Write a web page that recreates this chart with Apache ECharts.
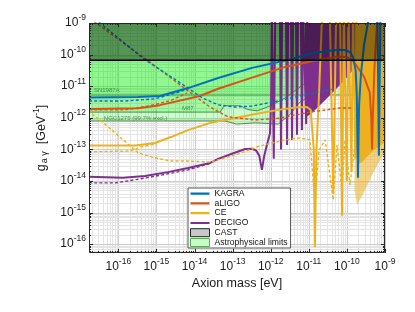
<!DOCTYPE html>
<html><head><meta charset="utf-8">
<script src="https://cdn.jsdelivr.net/npm/echarts@6/dist/echarts.min.js"></script>
<style>html,body{margin:0;padding:0;background:#fff}#c{width:415px;height:312px}</style>
</head><body><div id="c"></div>
<script>
// All values: [log10(axion mass / eV), log10(g_aγ / GeV^-1)]
const xMin = -16.77, xMax = -9;
const yMin = -16.28, yMax = -9;
const xTickExps = [-16, -15, -14, -13, -12, -11, -10, -9];
const yTickExps = [-16, -15, -14, -13, -12, -11, -10, -9];
const seriesNames = ['KAGRA', 'aLIGO', 'CE', 'DECIGO', 'CAST', 'Astrophysical limits'];

const kagraSolid = [[-16.77,-11.36],[-15.48,-11.34],[-14.91,-11.31],[-14.17,-11.06],[-13.38,-10.74],[-12.49,-10.42],[-11.62,-10.19],[-10.89,-9.95],[-10.45,-9.88],[-10.18,-9.85],[-10.02,-9.86],[-9.90,-9.95],[-9.84,-10.08],[-9.77,-10.5],[-9.74,-11.3],[-9.71,-13.9],[-9.68,-11.6],[-9.63,-10.6],[-9.55,-9.7],[-9.45,-9.0],[-9.38,-8.6],[-9.20,-8.6],[-9.16,-13.2],[-9.12,-8.6],[-9.0,-8.6]];
const kagraDashed = [[-16.62,-8.88],[-16.48,-9.0],[-15.35,-10.12],[-14.17,-11.06],[-13.80,-11.37],[-13.38,-11.59],[-12.94,-11.66],[-12.49,-11.63],[-12.07,-11.53],[-11.70,-11.44],[-11.23,-11.31],[-10.8,-11.2],[-10.4,-11.1]];
const kagraDashedLow = [[-16.77,-11.47],[-15.82,-11.47],[-15.04,-11.40],[-14.5,-11.22],[-14.1,-11.05]];

const aligoSolid = [[-16.77,-11.72],[-15.48,-11.70],[-14.91,-11.60],[-14.17,-11.40],[-13.86,-11.31],[-13.38,-11.08],[-12.49,-10.73],[-11.62,-10.39],[-10.89,-10.20],[-10.44,-10.11],[-10.18,-10.06],[-10.0,-10.08],[-9.84,-10.2],[-9.73,-10.38],[-9.55,-10.7],[-9.40,-11.2],[-9.36,-12.0],[-9.34,-13.0],[-9.32,-12.0],[-9.28,-10.5],[-9.22,-9.2],[-9.18,-8.6],[-9.0,-8.6]];
const aligoDashed = [[-16.75,-8.85],[-16.585,-9.0],[-15.17,-10.24],[-14.17,-11.15],[-13.59,-11.66],[-13.12,-11.97],[-12.41,-12.07],[-11.76,-12.01],[-10.97,-11.82],[-10.18,-11.69],[-9.84,-11.69]];
const aligoDashedLow = [[-16.77,-11.75],[-15.82,-11.75],[-15.17,-11.62],[-14.62,-11.45],[-14.2,-11.22]];

const ceSolid = [[-16.77,-12.88],[-15.55,-12.88],[-15.04,-12.80],[-14.62,-12.61],[-14.17,-12.39],[-13.59,-12.16],[-13.0,-12.02],[-12.4,-11.88],[-11.8,-11.75],[-11.3,-11.67],[-11.05,-11.66],[-10.95,-11.75],[-10.87,-13.0],[-10.84,-16.1],[-10.80,-13.0],[-10.74,-11.5],[-10.66,-9.0],[-10.6,-8.6],[-10.45,-8.6],[-10.36,-14.4],[-10.28,-8.6],[-10.18,-8.6],[-10.13,-15.1],[-10.08,-8.6],[-10.03,-8.6],[-10.0,-14.0],[-9.96,-8.6],[-9.92,-8.6],[-9.88,-13.7],[-9.84,-8.6],[-9.81,-8.6],[-9.78,-13.3],[-9.75,-8.6]];
const ceDashed = [[-16.69,-11.88],[-16.35,-12.20],[-15.93,-12.64],[-15.48,-13.11],[-15.04,-13.27],[-14.62,-13.37],[-14.17,-13.37],[-13.59,-13.40],[-12.94,-13.18],[-12.28,-12.89],[-11.62,-12.70],[-11.23,-12.64],[-10.97,-12.70],[-10.84,-14.70],[-10.73,-13.02],[-10.57,-12.70],[-10.36,-14.60],[-10.26,-12.86],[-10.13,-14.28],[-10.05,-12.70],[-9.92,-14.13],[-9.81,-13.02]];
const ceDashedLow = [[-16.77,-13.08],[-15.67,-13.05],[-15.40,-12.92],[-15.0,-12.82]];
const ceDenseEdge = [[-9.76,-12.9],[-9.73,-13.49],[-9.60,-13.40],[-9.45,-13.21],[-9.29,-13.02],[-9.13,-12.89],[-9.0,-12.77]];
const ceDenseDashedEdge = [[-9.80,-14.3],[-9.73,-14.76],[-9.52,-14.28],[-9.34,-13.81],[-9.13,-13.34],[-9.0,-13.08]];

const decigoSolid = [[-16.77,-13.87],[-15.88,-13.90],[-15.3,-13.84],[-14.7,-13.72],[-14.17,-13.59],[-13.59,-13.43],[-13.38,-13.30],[-13.0,-13.13],[-12.67,-12.99],[-12.49,-12.98],[-12.38,-13.04],[-12.30,-13.2],[-12.23,-13.65],[-12.17,-13.2],[-12.10,-12.86],[-12.02,-12.5],[-11.99,-11.5],[-11.97,-8.6],[-11.95,-8.6],[-11.92,-13.3],[-11.88,-8.6],[-11.76,-8.6],[-11.73,-13.0],[-11.70,-8.6],[-11.60,-8.6],[-11.57,-12.86],[-11.54,-8.6],[-11.47,-8.6],[-11.44,-12.7],[-11.41,-8.6],[-11.34,-8.6],[-11.31,-12.54],[-11.28,-8.6],[-11.21,-8.6],[-11.18,-12.39],[-11.15,-8.6],[-11.10,-8.6],[-11.07,-12.2],[-11.04,-8.6]];
const decigoDashed = [[-16.77,-14.06],[-16.08,-14.06],[-15.5,-13.95],[-14.9,-13.82],[-14.17,-13.65],[-13.6,-13.45]];
const decigoDenseEdge = [[-11.10,-12.01],[-10.89,-11.82],[-10.57,-11.44],[-10.31,-11.12],[-10.05,-10.80],[-9.84,-10.49],[-9.73,-10.36]];

const castLimit = [[-16.77,-10.18],[-9.0,-10.18]];
const sn1987aEdge = [[-16.77,-11.28],[-9.7,-11.28],[-9.5,-11.15],[-9.3,-11.03],[-9.0,-10.93]];
const m87Edge = [[-16.77,-11.82],[-13.33,-11.82],[-13.22,-11.62],[-12.80,-11.62],[-12.60,-11.74],[-12.35,-11.78],[-12.0,-11.62],[-11.62,-11.37],[-11.05,-10.87],[-10.7,-10.55],[-10.4,-10.2],[-10.2,-9.0]];
const ngc1275Edge = [[-16.77,-12.10],[-13.2,-12.10],[-12.9,-12.2],[-12.4,-12.16],[-11.8,-12.2],[-11.5,-11.9],[-11.23,-11.5],[-10.84,-11.25],[-10.6,-11.1],[-10.3,-10.4],[-10.1,-9.0]];
const annotations = [
  {name: 'SN1987A', value: [-16.64, -11.12]},
  {name: 'M87', value: [-14.33, -11.69]},
  {name: 'NGC1275 (99.7% excl.)', value: [-16.38, -12.01]}
];

// ---------- styling ----------
const FONT = 'Liberation Sans, Arial, sans-serif';
const C = {KAGRA:'#0072BD', aLIGO:'#D95319', CE:'#EDB120', DECIGO:'#7E2F8E'};
const GREEN_FILL = 'rgba(0,235,0,0.2)';
const GREEN_LINE = 'rgba(60,135,60,0.95)';
const LINE_ICON = 'path://M0,0h0.01v0.01h-0.01zM0,3h19v2.2h-19zM18.99,7.99h0.01v0.01h-0.01z';

function isDecade(v, list){ const r = Math.round(v); return Math.abs(v - r) < 1e-6 && list.indexOf(r) >= 0; }
const richLab = {
  b: {fontSize: 12, fontFamily: FONT, color: '#1a1a1a'},
  s: {fontSize: 8.5, fontFamily: FONT, color: '#1a1a1a', padding: [0,0,10,0]}
};

function lineSeries(name, data, color, width, dashed, z){
  return {name, type:'line', data, z: z||2, symbol:'none', showSymbol:false, clip:true, silent:true,
    lineStyle:{color, width, type: dashed ? [3,2.2] : 'solid'}, itemStyle:{color}, animation:false};
}
function polySeries(name, edge, fill, z, legendColor){
  return {name, type:'custom', coordinateSystem:'cartesian2d', z, silent:true, animation:false,
    itemStyle: {color: legendColor || fill},
    data:[edge[0]],
    renderItem: function(params, api){
      const pts = edge.map(p => api.coord(p));
      pts.push(api.coord([edge[edge.length-1][0], yMax]));
      pts.push(api.coord([edge[0][0], yMax]));
      return {type:'polygon', shape:{points:pts}, style:{fill, stroke:'none'}};
    }};
}
function logPositions(lo, hi){
  const out = [];
  for (let d = Math.floor(lo); d <= Math.ceil(hi); d++) for (let k = 1; k <= 9; k++) {
    const v = d + Math.log10(k);
    if (v >= lo - 1e-9 && v <= hi + 1e-9) out.push({v, major: k === 1});
  }
  return out;
}
const gridSeries = {
  type:'custom', coordinateSystem:'cartesian2d', z:0, silent:true, animation:false, data:[[xMin,yMin]],
  renderItem: function(params, api){
    const cs = params.coordSys, L=cs.x, T=cs.y, R=cs.x+cs.width, B=cs.y+cs.height;
    const kids = [];
    logPositions(xMin, xMax).forEach(t => { const p = Math.round(api.coord([t.v, yMin])[0]) + 0.5;
      kids.push({type:'line', shape:{x1:p,y1:T,x2:p,y2:B}, style:{stroke: t.major ? '#cdcdcd' : '#e4e4e4', lineWidth:1}}); });
    logPositions(yMin, yMax).forEach(t => { const p = Math.round(api.coord([xMin, t.v])[1]) + 0.5;
      kids.push({type:'line', shape:{x1:L,y1:p,x2:R,y2:p}, style:{stroke: t.major ? '#cdcdcd' : '#e4e4e4', lineWidth:1}}); });
    return {type:'group', children:kids};
  }
};
const tickSeries = {
  type:'custom', coordinateSystem:'cartesian2d', z:10, silent:true, animation:false, data:[[xMin,yMin]],
  renderItem: function(params, api){
    const cs = params.coordSys, L=cs.x, T=cs.y, R=cs.x+cs.width, B=cs.y+cs.height;
    const kids = [], st = {stroke:'#262626', lineWidth:1};
    logPositions(xMin, xMax).forEach(t => { const p = Math.round(api.coord([t.v, yMin])[0]) + 0.5, len = t.major ? 4 : 2;
      kids.push({type:'line', shape:{x1:p,y1:B,x2:p,y2:B-len}, style:st});
      kids.push({type:'line', shape:{x1:p,y1:T,x2:p,y2:T+len}, style:st}); });
    logPositions(yMin, yMax).forEach(t => { const p = Math.round(api.coord([xMin, t.v])[1]) + 0.5, len = t.major ? 4 : 2;
      kids.push({type:'line', shape:{x1:L,y1:p,x2:L+len,y2:p}, style:st});
      kids.push({type:'line', shape:{x1:R,y1:p,x2:R-len,y2:p}, style:st}); });
    kids.push({type:'rect', shape:{x:L+0.5,y:T+0.5,width:R-L-1,height:B-T-1}, style:{fill:null, stroke:'#262626', lineWidth:1}});
    return {type:'group', children:kids};
  }
};

const series = [
  gridSeries,
  // astrophysical limits
  polySeries('Astrophysical limits', ngc1275Edge, GREEN_FILL, 1, 'rgb(200,250,200)'),
  polySeries('m87fill', m87Edge, GREEN_FILL, 1),
  polySeries('snfill', sn1987aEdge, 'rgba(0,235,0,0.12)', 1),
  lineSeries('ngcline', ngc1275Edge, GREEN_LINE, 1, false, 1),
  lineSeries('m87line', m87Edge, GREEN_LINE, 1, false, 1),
  lineSeries('snline', sn1987aEdge, GREEN_LINE, 1, false, 1),
  {type:'scatter', z:5, silent:true, animation:false, symbolSize:0, data: annotations,
    label:{show:true, position:'right', distance:0, formatter:'{b}', fontSize:6, fontFamily:FONT, color:'rgba(40,105,40,0.9)'}},
  // DECIGO
  polySeries('decigoDense', decigoDenseEdge, C.DECIGO, 2),
  lineSeries('DECIGO', decigoSolid, C.DECIGO, 2, false),
  lineSeries('DECIGO-d', decigoDashed, C.DECIGO, 1.4, true),
  // CE
  polySeries('ceDenseDashed', ceDenseDashedEdge, 'rgba(237,177,32,0.55)', 2),
  polySeries('ceDense', ceDenseEdge, C.CE, 2),
  lineSeries('CE', ceSolid, C.CE, 2, false),
  lineSeries('CE-d', ceDashed, C.CE, 1.4, true),
  lineSeries('CE-dl', ceDashedLow, C.CE, 1.4, true),
  // aLIGO
  lineSeries('aLIGO', aligoSolid, C.aLIGO, 2, false),
  lineSeries('aLIGO-d', aligoDashed, C.aLIGO, 1.4, true),
  lineSeries('aLIGO-dl', aligoDashedLow, C.aLIGO, 1.4, true),
  // KAGRA
  lineSeries('KAGRA', kagraSolid, C.KAGRA, 2, false),
  lineSeries('KAGRA-d', kagraDashed, C.KAGRA, 1.4, true),
  lineSeries('KAGRA-dl', kagraDashedLow, C.KAGRA, 1.4, true),
  // CAST
  polySeries('CAST', castLimit, 'rgba(0,0,0,0.4)', 3, '#c8c8c8'),
  lineSeries('castline', castLimit, '#000', 1.5, false, 3),
  tickSeries
];

const chart = echarts.init(document.getElementById('c'), null, {renderer:'canvas'});
chart.setOption({
  animation:false,
  grid:{left:89, top:23, width:296, height:230, containLabel:false},
  xAxis:{type:'value', min:xMin, max:xMax, minInterval:1, maxInterval:1, splitNumber:8,
    axisLine:{show:false}, axisTick:{show:false}, splitLine:{show:false},
    axisLabel:{interval:0, margin:4, formatter: v => isDecade(v, xTickExps) ? '{b|10}{s|' + Math.round(v) + '}' : '', rich: richLab},
    name:'Axion mass [eV]', nameLocation:'middle', nameGap:21,
    nameTextStyle:{fontSize:12.5, fontFamily:FONT, color:'#1a1a1a'}},
  yAxis:{type:'value', min:yMin, max:yMax, minInterval:1, maxInterval:1, splitNumber:8,
    axisLine:{show:false}, axisTick:{show:false}, splitLine:{show:false},
    axisLabel:{interval:0, margin:3, formatter: v => isDecade(v, yTickExps) ? '{b|10}{s|' + Math.round(v) + '}' : '', rich: richLab},
    name:'{g|g}{sub|a γ}{g|  [GeV}{sup|-1}{g|]}', nameLocation:'middle', nameGap:30, nameRotate:90,
    nameTextStyle:{rich:{
      g:{fontSize:12.5, fontFamily:FONT, color:'#1a1a1a'},
      sub:{fontSize:9, fontFamily:FONT, color:'#1a1a1a', padding:[7,0,0,1]},
      sup:{fontSize:8.5, fontFamily:FONT, color:'#1a1a1a', padding:[0,0,9,0]}
    }}},
  legend:{left:188, top:188, orient:'vertical', selectedMode:false,
    backgroundColor:'#fff', borderColor:'#555', borderWidth:1, borderRadius:0,
    padding:[1,3,1,2], itemGap:0.8, itemWidth:19, itemHeight:8,
    textStyle:{fontSize:8.6, fontFamily:FONT, color:'#111', lineHeight:9},
    data:[
      {name:seriesNames[0], icon:LINE_ICON}, {name:seriesNames[1], icon:LINE_ICON},
      {name:seriesNames[2], icon:LINE_ICON}, {name:seriesNames[3], icon:LINE_ICON},
      {name:seriesNames[4], icon:'rect', itemStyle:{color:'#c8c8c8', borderColor:'#222', borderWidth:1}},
      {name:seriesNames[5], icon:'rect', itemStyle:{color:'rgb(200,250,200)', borderColor:'rgb(90,170,90)', borderWidth:1}}
    ]},
  series
});
</script></body></html>
